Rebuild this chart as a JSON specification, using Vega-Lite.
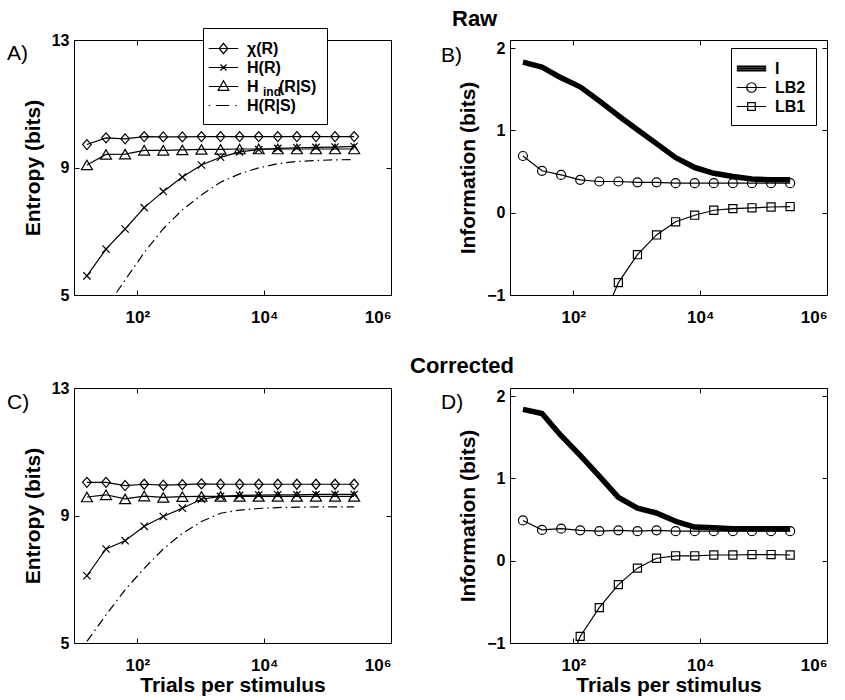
{
  "$schema": "https://vega.github.io/schema/vega-lite/v6.json",
  "padding": {"left": 6, "top": 8, "right": 5, "bottom": 5},
  "datasets": {
    "rawEntropy": [
      {"n": 16, "chi": 9.72, "HR": 5.60, "Hind": 9.08, "HRS": null},
      {"n": 32, "chi": 9.93, "HR": 6.44, "Hind": 9.41, "HRS": 4.60},
      {"n": 64, "chi": 9.90, "HR": 7.07, "Hind": 9.42, "HRS": 5.47},
      {"n": 128, "chi": 9.97, "HR": 7.74, "Hind": 9.54, "HRS": 6.33},
      {"n": 256, "chi": 9.96, "HR": 8.25, "Hind": 9.54, "HRS": 7.08},
      {"n": 512, "chi": 9.96, "HR": 8.70, "Hind": 9.55, "HRS": 7.67},
      {"n": 1024, "chi": 9.97, "HR": 9.08, "Hind": 9.57, "HRS": 8.14},
      {"n": 2048, "chi": 9.97, "HR": 9.32, "Hind": 9.57, "HRS": 8.54},
      {"n": 4096, "chi": 9.97, "HR": 9.49, "Hind": 9.58, "HRS": 8.80},
      {"n": 8192, "chi": 9.97, "HR": 9.56, "Hind": 9.58, "HRS": 8.99},
      {"n": 16384, "chi": 9.97, "HR": 9.60, "Hind": 9.58, "HRS": 9.12},
      {"n": 32768, "chi": 9.97, "HR": 9.62, "Hind": 9.58, "HRS": 9.19},
      {"n": 65536, "chi": 9.97, "HR": 9.63, "Hind": 9.58, "HRS": 9.22},
      {"n": 131072, "chi": 9.97, "HR": 9.64, "Hind": 9.58, "HRS": 9.24},
      {"n": 262144, "chi": 9.97, "HR": 9.66, "Hind": 9.58, "HRS": 9.25}
    ],
    "rawInfo": [
      {"n": 16, "I": 1.83, "LB2": 0.69, "LB1": null},
      {"n": 32, "I": 1.77, "LB2": 0.51, "LB1": null},
      {"n": 64, "I": 1.64, "LB2": 0.46, "LB1": null},
      {"n": 128, "I": 1.53, "LB2": 0.40, "LB1": null},
      {"n": 256, "I": 1.36, "LB2": 0.38, "LB1": -1.40},
      {"n": 512, "I": 1.18, "LB2": 0.38, "LB1": -0.85},
      {"n": 1024, "I": 1.01, "LB2": 0.37, "LB1": -0.51},
      {"n": 2048, "I": 0.84, "LB2": 0.37, "LB1": -0.27},
      {"n": 4096, "I": 0.67, "LB2": 0.36, "LB1": -0.11},
      {"n": 8192, "I": 0.55, "LB2": 0.36, "LB1": -0.03},
      {"n": 16384, "I": 0.48, "LB2": 0.36, "LB1": 0.03},
      {"n": 32768, "I": 0.44, "LB2": 0.36, "LB1": 0.05},
      {"n": 65536, "I": 0.41, "LB2": 0.36, "LB1": 0.06},
      {"n": 131072, "I": 0.40, "LB2": 0.36, "LB1": 0.07},
      {"n": 262144, "I": 0.40, "LB2": 0.36, "LB1": 0.075}
    ],
    "corEntropy": [
      {"n": 16, "chi": 10.04, "HR": 7.11, "Hind": 9.58, "HRS": 5.05},
      {"n": 32, "chi": 10.04, "HR": 7.95, "Hind": 9.65, "HRS": 5.88},
      {"n": 64, "chi": 9.94, "HR": 8.21, "Hind": 9.52, "HRS": 6.67},
      {"n": 128, "chi": 9.98, "HR": 8.66, "Hind": 9.61, "HRS": 7.34},
      {"n": 256, "chi": 9.95, "HR": 8.97, "Hind": 9.57, "HRS": 7.95},
      {"n": 512, "chi": 9.97, "HR": 9.23, "Hind": 9.59, "HRS": 8.44},
      {"n": 1024, "chi": 9.99, "HR": 9.51, "Hind": 9.60, "HRS": 8.81},
      {"n": 2048, "chi": 9.98, "HR": 9.60, "Hind": 9.60, "HRS": 9.07},
      {"n": 4096, "chi": 9.98, "HR": 9.63, "Hind": 9.60, "HRS": 9.17},
      {"n": 8192, "chi": 9.98, "HR": 9.64, "Hind": 9.60, "HRS": 9.22},
      {"n": 16384, "chi": 9.98, "HR": 9.65, "Hind": 9.60, "HRS": 9.25},
      {"n": 32768, "chi": 9.98, "HR": 9.65, "Hind": 9.60, "HRS": 9.26},
      {"n": 65536, "chi": 9.98, "HR": 9.66, "Hind": 9.60, "HRS": 9.27},
      {"n": 131072, "chi": 9.98, "HR": 9.66, "Hind": 9.60, "HRS": 9.27},
      {"n": 262144, "chi": 9.98, "HR": 9.66, "Hind": 9.60, "HRS": 9.27}
    ],
    "corInfo": [
      {"n": 16, "I": 1.84, "LB2": 0.49, "LB1": null},
      {"n": 32, "I": 1.79, "LB2": 0.375, "LB1": null},
      {"n": 64, "I": 1.52, "LB2": 0.39, "LB1": -1.50},
      {"n": 128, "I": 1.28, "LB2": 0.37, "LB1": -0.92},
      {"n": 256, "I": 1.03, "LB2": 0.36, "LB1": -0.57},
      {"n": 512, "I": 0.77, "LB2": 0.37, "LB1": -0.29},
      {"n": 1024, "I": 0.64, "LB2": 0.36, "LB1": -0.09},
      {"n": 2048, "I": 0.58, "LB2": 0.37, "LB1": 0.03},
      {"n": 4096, "I": 0.48, "LB2": 0.36, "LB1": 0.06},
      {"n": 8192, "I": 0.41, "LB2": 0.36, "LB1": 0.06},
      {"n": 16384, "I": 0.40, "LB2": 0.36, "LB1": 0.07},
      {"n": 32768, "I": 0.39, "LB2": 0.36, "LB1": 0.07},
      {"n": 65536, "I": 0.39, "LB2": 0.36, "LB1": 0.075},
      {"n": 131072, "I": 0.39, "LB2": 0.36, "LB1": 0.075},
      {"n": 262144, "I": 0.39, "LB2": 0.36, "LB1": 0.07}
    ]
  },
  "config": {
    "font": "Liberation Sans",
    "view": {"stroke": "black", "strokeWidth": 1},
    "axis": {
      "grid": false, "domain": false, "tickColor": "black", "tickSize": -5, "tickWidth": 1,
      "labelFont": "Liberation Sans", "labelFontWeight": "bold", "labelFontSize": 16, "labelColor": "black",
      "titleFont": "Liberation Sans", "titleFontSize": 21, "titleFontWeight": "bold", "titleColor": "black"
    },
    "axisBottom": {"labelPadding": 19, "labelFontSize": 17, "titlePadding": 1},
    "axisLeft": {"labelPadding": 10, "titlePadding": 8},
    "legend": {
      "orient": "none", "title": null, "padding": 10, "rowPadding": 0,
      "strokeColor": "black", "strokeWidth": 1, "fillColor": "white", "cornerRadius": 0,
      "symbolSize": 361, "symbolStrokeColor": "black", "symbolStrokeWidth": 1.2,
      "symbolFillColor": "transparent", "symbolOpacity": 1,
      "labelFont": "Liberation Sans", "labelFontSize": 16, "labelFontWeight": "bold", "labelColor": "black",
      "labelOffset": 13, "labelLimit": 0
    },
    "title": {"font": "Liberation Sans", "color": "black"}
  },
  "spacing": 24,
  "resolve": {"scale": {"shape": "independent", "strokeDash": "independent"}, "legend": {"shape": "independent", "strokeDash": "independent"}},
  "vconcat": [
    {
      "title": {"text": "Raw", "anchor": "start", "frame": "group", "dx": 378, "dy": 6, "fontSize": 22, "fontWeight": "bold", "offset": 2},
      "spacing": 48,
      "resolve": {"scale": {"shape": "independent", "strokeDash": "independent"}, "legend": {"shape": "independent", "strokeDash": "independent"}},
      "hconcat": [
        {
          "width": 317, "height": 255,
          "title": {"text": "A)", "anchor": "start", "frame": "group", "dx": -67, "dy": 53, "offset": 0, "baseline": "alphabetic", "fontSize": 21, "fontWeight": "normal"},
          "data": {"name": "rawEntropy"},
          "transform": [{"fold": ["chi", "HR", "Hind", "HRS"], "as": ["series", "value"]}],
          "layer": [
            {
              "transform": [{"filter": "datum.series != 'HRS'"}],
              "mark": {"type": "line", "clip": true, "color": "black", "strokeWidth": 1.2},
              "encoding": {
                "x": {"field": "n", "type": "quantitative", "scale": {"type": "log", "domain": [10, 1000000]},
                      "axis": {"orient": "bottom", "values": [100, 10000, 1000000], "title": null,
                               "labelExpr": "datum.value == 100 ? '10\u00b2' : datum.value == 10000 ? '10\u2074' : '10\u2076'"}},
                "y": {"field": "value", "type": "quantitative", "scale": {"domain": [5, 13], "nice": false, "zero": false},
                      "axis": {"orient": "left", "values": [5, 9, 13], "title": "Entropy (bits)"}},
                "detail": {"field": "series"}
              }
            },
            {
              "transform": [{"filter": "datum.series == 'HRS'"}],
              "mark": {"type": "line", "clip": true, "color": "black", "strokeWidth": 1.2, "strokeDash": [9, 4, 1.5, 4]},
              "encoding": {
                "x": {"field": "n", "type": "quantitative", "axis": null},
                "y": {"field": "value", "type": "quantitative", "axis": null}
              }
            },
            {
              "transform": [{"filter": "datum.series != 'HRS'"}],
              "mark": {"type": "point", "clip": true, "filled": false, "color": "black", "opacity": 1, "strokeWidth": 1.2, "size": 100},
              "encoding": {
                "x": {"field": "n", "type": "quantitative",
                      "axis": {"orient": "top", "values": [100, 10000, 1000000], "labels": false, "title": null}},
                "y": {"field": "value", "type": "quantitative",
                      "axis": {"orient": "right", "values": [5, 9, 13], "labels": false, "title": null}},
                "shape": {"field": "series", "type": "nominal", "legend": null,
                          "scale": {"domain": ["chi", "HR", "Hind"],
                                    "range": ["M0,-1L0.87,0L0,1L-0.87,0Z",
                                              "M-0.73,-0.73L0.73,0.73M-0.73,0.73L0.73,-0.73",
                                              "M0,-0.95L1.1,0.95L-1.1,0.95Z"]}}
              }
            },
            {
              "mark": {"type": "point", "filled": false, "color": "black", "opacity": 0},
              "encoding": {
                "x": {"field": "n", "type": "quantitative", "axis": null},
                "y": {"field": "value", "type": "quantitative", "axis": null},
                "shape": {"field": "series", "type": "nominal",
                          "scale": {"domain": ["chi", "HR", "Hind", "HRS"],
                                    "range": ["M-1.55,0H1.55M0,-0.55L0.45,0L0,0.55L-0.45,0Z",
                                              "M-1.55,0H1.55M-0.32,-0.32L0.32,0.32M-0.32,0.32L0.32,-0.32",
                                              "M-1.55,0H1.55M0,-0.6L0.56,0.4L-0.56,0.4Z",
                                              "M-1.55,0H-1.4M-0.8,0H0.6M1.25,0H1.4"]},
                          "legend": {
                            "legendX": 129, "legendY": -12, "zindex": 1,
                            "labelExpr": "datum.label == 'chi' ? '\u03c7(R)' : datum.label == 'HR' ? 'H(R)' : datum.label == 'Hind' ? 'H\u2003\u00a0(R|S)' : 'H(R|S)'"
                          }}
              }
            },
            {
              "transform": [{"filter": "datum.series == 'Hind'"}],
              "mark": {"type": "point", "color": "black", "opacity": 0},
              "encoding": {
                "x": {"field": "n", "type": "quantitative", "axis": null},
                "y": {"field": "value", "type": "quantitative", "axis": null},
                "strokeDash": {"field": "series", "type": "nominal",
                               "scale": {"domain": ["Hind"], "range": [[1, 0]]},
                               "legend": {
                                 "legendX": 177, "legendY": 46, "padding": 0, "zindex": 2,
                                 "strokeColor": "transparent", "fillColor": "transparent",
                                 "symbolSize": 1, "symbolOpacity": 0, "labelOffset": 0,
                                 "labelFontSize": 12, "labelExpr": "'ind'"
                               }}
              }
            }
          ],
          "resolve": {"scale": {"shape": "independent"}}
        },
        {
          "width": 317, "height": 255,
          "title": {"text": "B)", "anchor": "start", "frame": "group", "dx": -69, "dy": 43, "offset": 0, "baseline": "alphabetic", "fontSize": 21, "fontWeight": "normal"},
          "data": {"name": "rawInfo"},
          "transform": [{"fold": ["I", "LB2", "LB1"], "as": ["series", "value"]}],
          "layer": [
            {
              "transform": [{"filter": "datum.series != 'I'"}],
              "mark": {"type": "line", "clip": true, "color": "black", "strokeWidth": 1.2},
              "encoding": {
                "x": {"field": "n", "type": "quantitative", "scale": {"type": "log", "domain": [10, 1000000]},
                      "axis": {"orient": "bottom", "values": [100, 10000, 1000000], "title": null,
                               "labelExpr": "datum.value == 100 ? '10\u00b2' : datum.value == 10000 ? '10\u2074' : '10\u2076'"}},
                "y": {"field": "value", "type": "quantitative", "scale": {"domain": [-1, 2.1], "nice": false, "zero": false},
                      "axis": {"orient": "left", "values": [-1, 0, 1, 2], "title": "Information (bits)"}},
                "detail": {"field": "series"}
              }
            },
            {
              "transform": [{"filter": "datum.series == 'I'"}],
              "mark": {"type": "line", "clip": true, "color": "black", "strokeWidth": 5.5, "strokeJoin": "round"},
              "encoding": {
                "x": {"field": "n", "type": "quantitative", "axis": null},
                "y": {"field": "value", "type": "quantitative", "axis": null}
              }
            },
            {
              "transform": [{"filter": "datum.series != 'I'"}],
              "mark": {"type": "point", "clip": true, "filled": false, "color": "black", "opacity": 1, "strokeWidth": 1.2, "size": 81},
              "encoding": {
                "x": {"field": "n", "type": "quantitative",
                      "axis": {"orient": "top", "values": [100, 10000, 1000000], "labels": false, "title": null}},
                "y": {"field": "value", "type": "quantitative",
                      "axis": {"orient": "right", "values": [-1, 0, 1, 2], "labels": false, "title": null}},
                "shape": {"field": "series", "type": "nominal", "legend": null,
                          "scale": {"domain": ["LB2", "LB1"], "range": ["circle", "M-0.9,-0.9H0.9V0.9H-0.9Z"]}}
              }
            },
            {
              "mark": {"type": "point", "filled": false, "color": "black", "opacity": 0},
              "encoding": {
                "x": {"field": "n", "type": "quantitative", "axis": null},
                "y": {"field": "value", "type": "quantitative", "axis": null},
                "shape": {"field": "series", "type": "nominal",
                          "scale": {"domain": ["I", "LB2", "LB1"],
                                    "range": ["M-1.55,-0.26H1.55M-1.55,-0.13H1.55M-1.55,0H1.55M-1.55,0.13H1.55M-1.55,0.26H1.55",
                                              "M-1.55,0H1.55M-0.5,0A0.5,0.5,0,1,0,0.5,0A0.5,0.5,0,1,0,-0.5,0",
                                              "M-1.55,0H1.55M-0.4,-0.4H0.4V0.4H-0.4Z"]},
                          "legend": {"legendX": 221, "legendY": 8, "zindex": 1}}
              }
            }
          ],
          "resolve": {"scale": {"shape": "independent"}}
        }
      ]
    },
    {
      "title": {"text": "Corrected", "anchor": "start", "frame": "group", "dx": 336, "dy": 0, "fontSize": 22, "fontWeight": "bold", "offset": 2},
      "spacing": 48,
      "resolve": {"scale": {"shape": "independent"}, "legend": {"shape": "independent"}},
      "hconcat": [
        {
          "width": 317, "height": 255,
          "title": {"text": "C)", "anchor": "start", "frame": "group", "dx": -67, "dy": 50, "offset": 0, "baseline": "alphabetic", "fontSize": 21, "fontWeight": "normal"},
          "data": {"name": "corEntropy"},
          "transform": [{"fold": ["chi", "HR", "Hind", "HRS"], "as": ["series", "value"]}],
          "layer": [
            {
              "transform": [{"filter": "datum.series != 'HRS'"}],
              "mark": {"type": "line", "clip": true, "color": "black", "strokeWidth": 1.2},
              "encoding": {
                "x": {"field": "n", "type": "quantitative", "scale": {"type": "log", "domain": [10, 1000000]},
                      "axis": {"orient": "bottom", "values": [100, 10000, 1000000], "title": "Trials per stimulus",
                               "labelExpr": "datum.value == 100 ? '10\u00b2' : datum.value == 10000 ? '10\u2074' : '10\u2076'"}},
                "y": {"field": "value", "type": "quantitative", "scale": {"domain": [5, 13], "nice": false, "zero": false},
                      "axis": {"orient": "left", "values": [5, 9, 13], "title": "Entropy (bits)"}},
                "detail": {"field": "series"}
              }
            },
            {
              "transform": [{"filter": "datum.series == 'HRS'"}],
              "mark": {"type": "line", "clip": true, "color": "black", "strokeWidth": 1.2, "strokeDash": [9, 4, 1.5, 4]},
              "encoding": {
                "x": {"field": "n", "type": "quantitative", "axis": null},
                "y": {"field": "value", "type": "quantitative", "axis": null}
              }
            },
            {
              "transform": [{"filter": "datum.series != 'HRS'"}],
              "mark": {"type": "point", "clip": true, "filled": false, "color": "black", "opacity": 1, "strokeWidth": 1.2, "size": 100},
              "encoding": {
                "x": {"field": "n", "type": "quantitative",
                      "axis": {"orient": "top", "values": [100, 10000, 1000000], "labels": false, "title": null}},
                "y": {"field": "value", "type": "quantitative",
                      "axis": {"orient": "right", "values": [5, 9, 13], "labels": false, "title": null}},
                "shape": {"field": "series", "type": "nominal", "legend": null,
                          "scale": {"domain": ["chi", "HR", "Hind"],
                                    "range": ["M0,-1L0.87,0L0,1L-0.87,0Z",
                                              "M-0.73,-0.73L0.73,0.73M-0.73,0.73L0.73,-0.73",
                                              "M0,-0.95L1.1,0.95L-1.1,0.95Z"]}}
              }
            }
          ]
        },
        {
          "width": 317, "height": 255,
          "title": {"text": "D)", "anchor": "start", "frame": "group", "dx": -69, "dy": 42, "offset": 0, "baseline": "alphabetic", "fontSize": 21, "fontWeight": "normal"},
          "data": {"name": "corInfo"},
          "transform": [{"fold": ["I", "LB2", "LB1"], "as": ["series", "value"]}],
          "layer": [
            {
              "transform": [{"filter": "datum.series != 'I'"}],
              "mark": {"type": "line", "clip": true, "color": "black", "strokeWidth": 1.2},
              "encoding": {
                "x": {"field": "n", "type": "quantitative", "scale": {"type": "log", "domain": [10, 1000000]},
                      "axis": {"orient": "bottom", "values": [100, 10000, 1000000], "title": "Trials per stimulus",
                               "labelExpr": "datum.value == 100 ? '10\u00b2' : datum.value == 10000 ? '10\u2074' : '10\u2076'"}},
                "y": {"field": "value", "type": "quantitative", "scale": {"domain": [-1, 2.1], "nice": false, "zero": false},
                      "axis": {"orient": "left", "values": [-1, 0, 1, 2], "title": "Information (bits)"}},
                "detail": {"field": "series"}
              }
            },
            {
              "transform": [{"filter": "datum.series == 'I'"}],
              "mark": {"type": "line", "clip": true, "color": "black", "strokeWidth": 5.5, "strokeJoin": "round"},
              "encoding": {
                "x": {"field": "n", "type": "quantitative", "axis": null},
                "y": {"field": "value", "type": "quantitative", "axis": null}
              }
            },
            {
              "transform": [{"filter": "datum.series != 'I'"}],
              "mark": {"type": "point", "clip": true, "filled": false, "color": "black", "opacity": 1, "strokeWidth": 1.2, "size": 81},
              "encoding": {
                "x": {"field": "n", "type": "quantitative",
                      "axis": {"orient": "top", "values": [100, 10000, 1000000], "labels": false, "title": null}},
                "y": {"field": "value", "type": "quantitative",
                      "axis": {"orient": "right", "values": [-1, 0, 1, 2], "labels": false, "title": null}},
                "shape": {"field": "series", "type": "nominal", "legend": null,
                          "scale": {"domain": ["LB2", "LB1"], "range": ["circle", "M-0.9,-0.9H0.9V0.9H-0.9Z"]}}
              }
            }
          ]
        }
      ]
    }
  ]
}
